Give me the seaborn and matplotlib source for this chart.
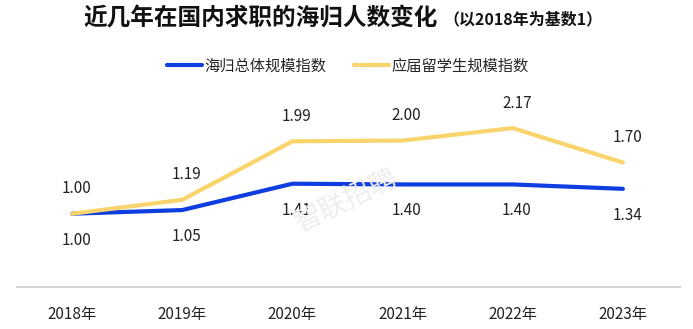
import matplotlib
matplotlib.use("Agg")
import matplotlib.pyplot as plt
import seaborn as sns
import pandas as pd
from matplotlib.lines import Line2D

years = ["2018年", "2019年", "2020年", "2021年", "2022年", "2023年"]
overall = [1.00, 1.05, 1.41, 1.40, 1.40, 1.34]
graduates = [1.00, 1.19, 1.99, 2.00, 2.17, 1.70]
series_names = ["海归总体规模指数", "应届留学生规模指数"]
colors = ["#0f3ee0", "#f9d46c"]

sns.set_theme(style="white")
plt.rcParams['font.family'] = ['Noto Sans CJK SC', 'DejaVu Sans']

df = pd.DataFrame({
    "x": list(range(len(years))) * 2,
    "value": overall + graduates,
    "series": [series_names[0]] * len(years) + [series_names[1]] * len(years),
})

fig = plt.figure(figsize=(6.93, 3.29), dpi=100)
ax = fig.add_axes([0.0245, 0.128, 0.957, 0.556])

sns.lineplot(data=df, x="x", y="value", hue="series", palette=colors,
             hue_order=series_names, linewidth=3, ax=ax, legend=False)

ax.set_xlim(-0.5, 5.52)
ax.set_ylim(0, 2.5)
ax.set_xticks(range(len(years)))
ax.set_xticklabels(years, fontsize=11, color="#222222")
ax.tick_params(axis="x", length=0, pad=14)
ax.set_yticks([])
ax.set_xlabel("")
ax.set_ylabel("")
for s in ["top", "right", "left"]:
    ax.spines[s].set_visible(False)
ax.spines["bottom"].set_color("#d4d4d4")
ax.spines["bottom"].set_linewidth(1.5)

for i, v in enumerate(overall):
    ax.annotate(f"{v:.2f}", (i, v), xytext=(3, -19), textcoords="offset points",
                ha="center", va="center", fontsize=11, color="#222222")
for i, v in enumerate(graduates):
    ax.annotate(f"{v:.2f}", (i, v), xytext=(3, 18), textcoords="offset points",
                ha="center", va="center", fontsize=11, color="#222222")

# watermark
fig.text(0.50, 0.39, "智联招聘", fontsize=20, color="#eeeeee", rotation=26,
         ha="center", va="center", zorder=0)

# title
fig.text(0.632, 0.944, "近几年在国内求职的海归人数变化", fontsize=17, fontweight="bold",
         ha="right", va="center", color="#111111")
fig.text(0.640, 0.940, "（以2018年为基数1）", fontsize=11.5, fontweight="bold",
         ha="left", va="center", color="#111111")

# legend
handles = [Line2D([0], [0], color=c, lw=3) for c in colors]
fig.legend(handles, series_names, loc="center", bbox_to_anchor=(0.502, 0.80),
           ncol=2, frameon=False, fontsize=11, handlelength=2.3,
           handletextpad=0.15, columnspacing=1.8)

fig.savefig("out.png", dpi=100)
